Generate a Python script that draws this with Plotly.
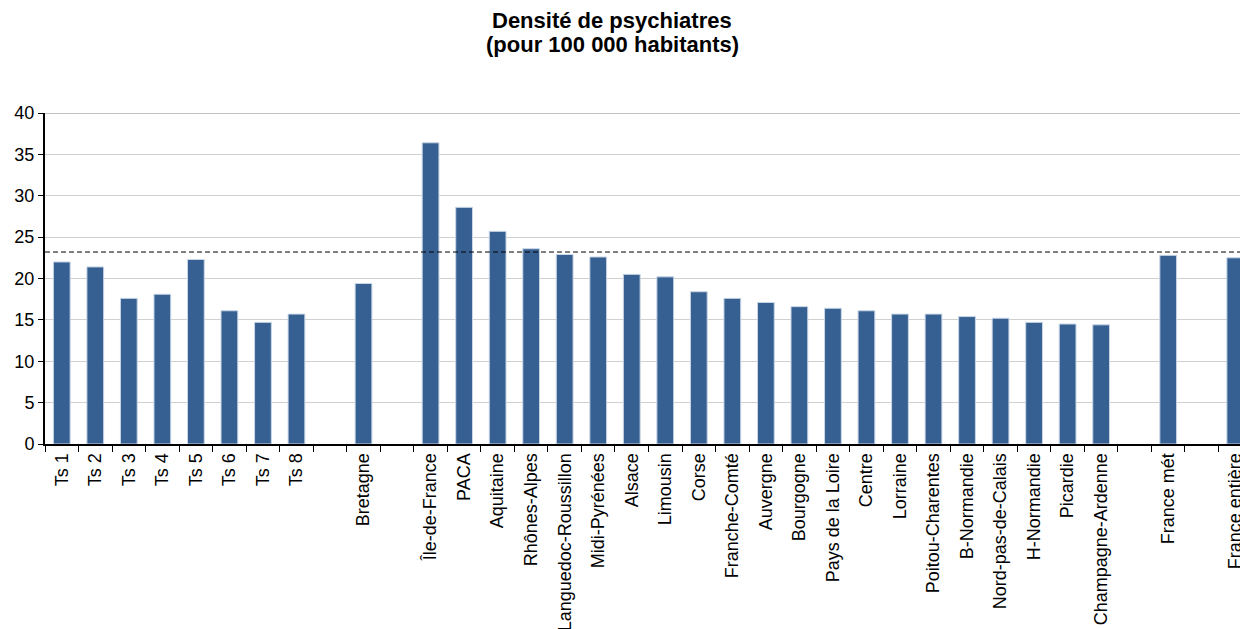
import plotly.graph_objects as go

categories = ["Ts 1", "Ts 2", "Ts 3", "Ts 4", "Ts 5", "Ts 6", "Ts 7", "Ts 8", " ",
              "Bretagne", "  ",
              "Île-de-France", "PACA", "Aquitaine", "Rhônes-Alpes", "Languedoc-Roussillon",
              "Midi-Pyrénées", "Alsace", "Limousin", "Corse", "Franche-Comté", "Auvergne",
              "Bourgogne", "Pays de la Loire", "Centre", "Lorraine", "Poitou-Charentes",
              "B-Normandie", "Nord-pas-de-Calais", "H-Normandie", "Picardie",
              "Champagne-Ardenne", "   ", "France mét", "    ", "France entière"]
values = [22.0, 21.4, 17.6, 18.1, 22.3, 16.1, 14.7, 15.7, None,
          19.4, None,
          36.4, 28.6, 25.7, 23.6, 22.9,
          22.6, 20.5, 20.2, 18.4, 17.6, 17.1,
          16.6, 16.4, 16.1, 15.7, 15.7,
          15.4, 15.2, 14.7, 14.5,
          14.4, None, 22.8, None, 22.5]
reference_value = 23.2
y_ticks = [0, 5, 10, 15, 20, 25, 30, 35, 40]
title_lines = ["Densité de psychiatres", "(pour 100 000 habitants)"]

# the page body adds an 8px offset; the figure is sized to fit the window
W, H = 1240, 621
ml, mt, mb, mr = 37, 105, 185, 0

fig = go.Figure()
fig.add_trace(go.Bar(
    x=categories, y=values, width=0.5,
    marker=dict(color="#376092", line=dict(color="#c9d6e6", width=1)),
    showlegend=False,
))

fig.add_shape(type="line", xref="paper", yref="y", x0=0, x1=1,
              y0=reference_value, y1=reference_value,
              line=dict(color="black", width=1, dash="5px,3px"))
fig.add_shape(type="line", xref="paper", yref="y", x0=0, x1=1, y0=40, y1=40,
              line=dict(color="#868686", width=1), layer="below")

plot_w = W - ml - mr
plot_h = H - mt - mb
title_cx = (612 - 8 - ml) / plot_w
for i, line in enumerate(title_lines):
    y_px = 20 + 25 * i - 8  # centre of line from container top
    fig.add_annotation(
        text=f"<b>{line}</b>", xref="paper", yref="paper",
        x=title_cx, xanchor="center",
        y=1 + (mt - y_px) / plot_h, yanchor="middle",
        showarrow=False, font=dict(size=22, color="black"),
    )

fig.update_layout(
    width=W, height=H,
    margin=dict(l=ml, r=mr, t=mt, b=mb, autoexpand=False),
    paper_bgcolor="white", plot_bgcolor="white",
    font=dict(family="Liberation Sans, Arial, sans-serif", size=18, color="black"),
    bargap=0.5,
)
fig.update_xaxes(
    type="category", range=[-0.5, 35.38], tickangle=-90, automargin=False,
    tickson="boundaries", ticks="outside", ticklen=6, tickcolor="black",
    showline=True, linecolor="black", linewidth=2, showgrid=False,
    tickfont=dict(size=18),
)
fig.update_yaxes(
    range=[0, 40], tickvals=y_ticks, ticks="outside", ticklen=5, tickcolor="black",
    showline=True, linecolor="black", linewidth=2, automargin=False,
    showgrid=True, gridcolor="#d0d0d0", gridwidth=1, zeroline=False,
    tickfont=dict(size=18),
)

fig.write_html("out.html")
